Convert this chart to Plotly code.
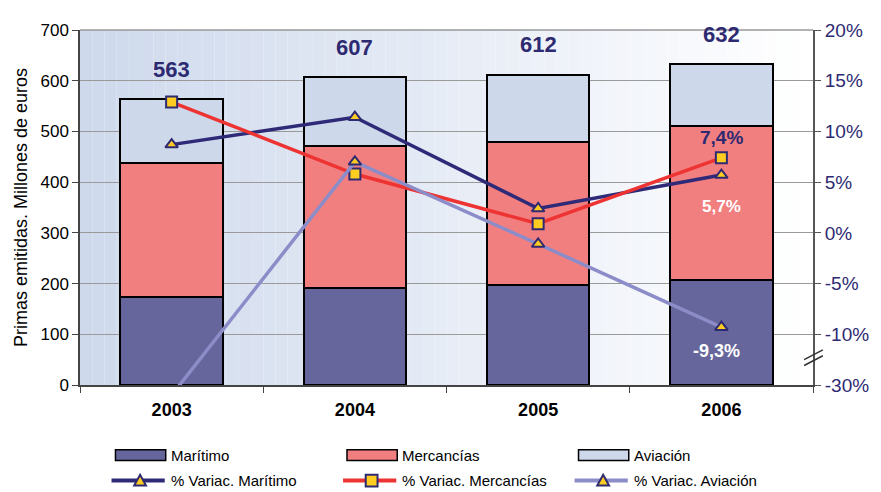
import plotly.graph_objects as go

years = ["2003", "2004", "2005", "2006"]
maritimo = [173, 192, 197, 208]
mercancias = [264, 279, 282, 303]
aviacion = [126, 136, 133, 121]
totales = [563, 607, 612, 632]

# % variation (right axis, broken: bottom tick -15 shown as -30%)
var_maritimo = [8.7, 11.4, 2.4, 5.7]
var_mercancias = [12.9, 5.8, 0.9, 7.4]
var_aviacion = [-16.0, 7.0, -1.1, -9.3]

right_tickvals = [-15, -10, -5, 0, 5, 10, 15, 20]
right_ticktext = ["-30%", "-10%", "-5%", "0%", "5%", "10%", "15%", "20%"]

NAVY = "#2E2A72"
YELLOW = "#FFCC22"
FONT = "Arial, Liberation Sans, sans-serif"
C_MAR, C_MER, C_AVI = "#66669C", "#F27F80", "#CDD8EB"
L_MAR, L_MER, L_AVI = "#2E2A78", "#EE3333", "#8C8CC8"

# plot area in screen pixels (page has an 8px body margin)
PL, PR, PT, PB = 78, 822, 21, 385


def px(x):
    return (x - PL) / (PR - PL)


def py(y):
    return (PB - y) / (PB - PT)


fig = go.Figure()

bar_style = dict(marker_line_color="black", marker_line_width=2, width=0.56, showlegend=False)
fig.add_trace(go.Bar(x=years, y=maritimo, name="Marítimo", marker_color=C_MAR, **bar_style))
fig.add_trace(go.Bar(x=years, y=mercancias, name="Mercancías", marker_color=C_MER, **bar_style))
fig.add_trace(go.Bar(x=years, y=aviacion, name="Aviación", marker_color=C_AVI, **bar_style))

mk = dict(color=YELLOW, line=dict(color=NAVY, width=2), size=11)
fig.add_trace(go.Scatter(
    x=years, y=var_maritimo, yaxis="y2", name="% Variac. Marítimo", showlegend=False,
    mode="lines+markers", line=dict(color=L_MAR, width=3.5),
    marker=dict(symbol="triangle-up", **mk),
))
fig.add_trace(go.Scatter(
    x=years, y=var_mercancias, yaxis="y2", name="% Variac. Mercancías", showlegend=False,
    mode="lines+markers", line=dict(color=L_MER, width=3.5),
    marker=dict(symbol="square", **mk),
))
fig.add_trace(go.Scatter(
    x=years, y=var_aviacion, yaxis="y2", name="% Variac. Aviación", showlegend=False,
    mode="lines+markers", line=dict(color=L_AVI, width=3.5),
    marker=dict(symbol="triangle-up", **mk),
))

# totals above the bars
for i, t in enumerate(totales):
    fig.add_annotation(x=i, y=t, yshift=30, showarrow=False, text="<b>%d</b>" % t,
                       font=dict(family=FONT, size=22, color=NAVY))

# value labels for 2006
i06 = years.index("2006")
fig.add_annotation(x=i06, y=var_mercancias[i06], yref="y2", yshift=20, showarrow=False,
                   text="<b>7,4%</b>", font=dict(family=FONT, size=19, color=NAVY))
fig.add_annotation(x=i06, y=var_maritimo[i06], yref="y2", yshift=-31, showarrow=False,
                   text="<b>5,7%</b>", font=dict(family=FONT, size=17, color="white"))
fig.add_annotation(x=i06, y=var_aviacion[i06], yref="y2", yshift=-24, xshift=-5, showarrow=False,
                   text="<b>-9,3%</b>", font=dict(family=FONT, size=18, color="white"))

# background gradient (light blue -> white)
n = 60
c0, c1 = (206, 217, 236), (255, 255, 255)
for i in range(n):
    t = i / (n - 1)
    c = tuple(round(a + (b - a) * t) for a, b in zip(c0, c1))
    fig.add_shape(type="rect", xref="paper", yref="paper", x0=i / n, x1=(i + 1) / n,
                  y0=0, y1=1, fillcolor="rgb(%d,%d,%d)" % c, line_width=0, layer="below")

# top border of the plot area
fig.add_shape(type="line", xref="paper", yref="paper", x0=0, x1=1, y0=1, y1=1,
              line=dict(color="#999999", width=1.5))
# axis break marks on the right axis
for dy in (0, 6):
    fig.add_shape(type="line", xref="paper", yref="paper",
                  x0=px(813), x1=px(832), y0=py(362 + dy - 3), y1=py(352 + dy - 3),
                  line=dict(color="#333333", width=1.5))

# legend drawn by hand (wide swatches like the original)
leg_x = [114, 349, 584]
bar_items = [("Marítimo", C_MAR), ("Mercancías", C_MER), ("Aviación", C_AVI)]
line_items = [("% Variac. Marítimo", L_MAR, "tri"), ("% Variac. Mercancías", L_MER, "sq"),
              ("% Variac. Aviación", L_AVI, "tri")]
y1, y2 = 457, 483
for x0, (label, col) in zip(leg_x, bar_items):
    fig.add_shape(type="rect", xref="paper", yref="paper", x0=px(x0), x1=px(x0 + 51),
                  y0=py(y1 + 5.5), y1=py(y1 - 5.5), fillcolor=col,
                  line=dict(color="black", width=1.5))
    fig.add_annotation(xref="paper", yref="paper", x=px(x0 + 54), y=py(y1), text=label,
                       xanchor="left", yanchor="middle", showarrow=False,
                       font=dict(family=FONT, size=15, color="black"))
for x0, (label, col, sym) in zip(leg_x, line_items):
    fig.add_shape(type="line", xref="paper", yref="paper", x0=px(x0 - 4), x1=px(x0 + 50),
                  y0=py(y2), y1=py(y2), line=dict(color=col, width=4))
    cx = x0 + 25
    if sym == "tri":
        path = "M %f,%f L %f,%f L %f,%f Z" % (px(cx - 6), py(y2 + 5), px(cx + 6), py(y2 + 5),
                                              px(cx), py(y2 - 6))
        fig.add_shape(type="path", xref="paper", yref="paper", path=path, fillcolor=YELLOW,
                      line=dict(color=NAVY, width=2))
    else:
        fig.add_shape(type="rect", xref="paper", yref="paper", x0=px(cx - 6), x1=px(cx + 6),
                      y0=py(y2 + 6), y1=py(y2 - 6), fillcolor=YELLOW,
                      line=dict(color=NAVY, width=2))
    fig.add_annotation(xref="paper", yref="paper", x=px(x0 + 54), y=py(y2), text=label,
                       xanchor="left", yanchor="middle", showarrow=False,
                       font=dict(family=FONT, size=15, color="black"))

fig.update_layout(
    width=873, height=484,
    barmode="stack",
    margin=dict(l=PL - 8, r=881 - PR, t=PT - 8, b=492 - PB),
    paper_bgcolor="white", plot_bgcolor="white",
    font=dict(family=FONT, size=17, color="black"),
    showlegend=False,
    xaxis=dict(
        type="category", range=[-0.5, 3.5], ticks="outside", tickson="boundaries", ticklen=6,
        tickcolor="#444444", showline=True, linecolor="#444444", linewidth=1.5,
        tickvals=years, ticktext=["<b>%s</b>" % y for y in years],
        tickfont=dict(family=FONT, size=18, color="black"), showgrid=False,
        ticklabelstandoff=8,
    ),
    yaxis=dict(
        range=[0, 700], dtick=100, ticks="outside", ticklen=6, tickcolor="#444444",
        showline=True, linecolor="#444444", linewidth=1.5,
        gridcolor="#9A9A9A", gridwidth=1, zeroline=False,
        title=dict(text="Primas emitidas. Millones de euros", font=dict(size=18), standoff=8),
        tickfont=dict(size=17),
    ),
    yaxis2=dict(
        overlaying="y", side="right", range=[-15, 20],
        tickvals=right_tickvals, ticktext=right_ticktext,
        ticks="outside", ticklen=6, tickcolor="#555555",
        showline=True, linecolor="#555555", linewidth=2, showgrid=False,
        tickfont=dict(size=19, color=NAVY), zeroline=False,
    ),
)

fig.write_html("out.html")
